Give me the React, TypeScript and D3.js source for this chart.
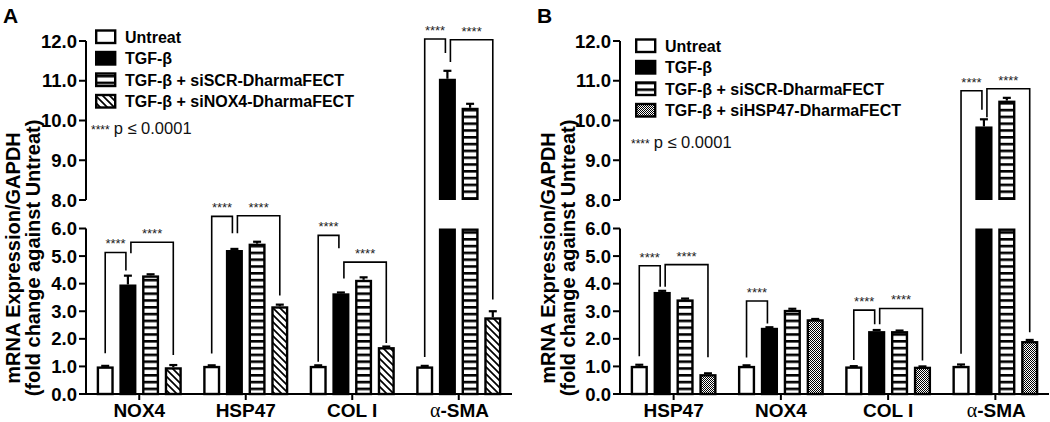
import React from 'react';
import * as d3 from 'd3';

// ---------- Panel A data ----------
const categoriesA = ["NOX4", "HSP47", "COL I", "α-SMA"];
const seriesA = ["Untreat", "TGF-β", "TGF-β + siSCR-DharmaFECT", "TGF-β + siNOX4-DharmaFECT"];
const untreatA = [1.0, 1.02, 1.02, 1.0];
const tgfA = [3.97, 5.22, 3.65, 11.05];
const siscrA = [4.3, 5.45, 4.14, 10.32];
const sinox4A = [0.97, 3.18, 1.7, 2.78];
const untreatErrA = [0.02, 0.02, 0.02, 0.02];
const tgfErrA = [0.32, 0.04, 0.03, 0.2];
const siscrErrA = [0.04, 0.07, 0.09, 0.1];
const sinox4ErrA = [0.08, 0.06, 0.02, 0.22];
const bracketsA = [
  { cat: 0, from: 0, to: 1, top: 5.13, left: 1.48, right: 4.48 },
  { cat: 0, from: 1, to: 3, top: 5.5, left: 5.1, right: 1.41 },
  { cat: 1, from: 0, to: 1, top: 6.85, left: 1.47, right: 5.83 },
  { cat: 1, from: 1, to: 3, top: 6.9, left: 5.83, right: 3.57 },
  { cat: 2, from: 0, to: 1, top: 5.75, left: 1.17, right: 5.28 },
  { cat: 2, from: 1, to: 3, top: 4.78, left: 4.19, right: 1.85 },
  { cat: 3, from: 0, to: 1, top: 12.05, left: 1.34, right: 11.7 },
  { cat: 3, from: 1, to: 3, top: 12.03, left: 11.47, right: 3.43 },
];

// ---------- Panel B data ----------
const categoriesB = ["HSP47", "NOX4", "COL I", "α-SMA"];
const seriesB = ["Untreat", "TGF-β", "TGF-β + siSCR-DharmaFECT", "TGF-β + siHSP47-DharmaFECT"];
const untreatB = [1.02, 1.02, 1.0, 1.02];
const tgfB = [3.7, 2.4, 2.28, 9.85];
const siscrB = [3.43, 3.05, 2.28, 10.5];
const sihspB = [0.72, 2.71, 0.99, 1.92];
const untreatErrB = [0.04, 0.02, 0.01, 0.05];
const tgfErrB = [0.04, 0.02, 0.04, 0.18];
const siscrErrB = [0.03, 0.04, 0.02, 0.07];
const sihspErrB = [0.03, 0.01, 0.01, 0.04];
const bracketsB = [
  { cat: 0, from: 0, to: 1, top: 4.65, left: 1.37, right: 3.89 },
  { cat: 0, from: 1, to: 3, top: 4.69, left: 3.89, right: 1.33 },
  { cat: 1, from: 0, to: 1, top: 3.37, left: 1.32, right: 2.56 },
  { cat: 2, from: 0, to: 1, top: 3.04, left: 1.23, right: 2.53 },
  { cat: 2, from: 1, to: 3, top: 3.1, left: 2.53, right: 1.21 },
  { cat: 3, from: 0, to: 1, top: 10.75, left: 1.46, right: 10.27 },
  { cat: 3, from: 1, to: 3, top: 10.8, left: 10.08, right: 2.24 },
];

// ---------- shared ----------
const yTicksLower = [0, 1, 2, 3, 4, 5, 6];
const yTicksUpper = [8, 9, 10, 11, 12];
const starsLabel = "****";
const pNote = "p ≤ 0.0001";
const yTitle1 = "mRNA Expression/GAPDH";
const yTitle2 = "(fold change against Untreat)";

const FONT = "'Liberation Sans', Arial, sans-serif";

type Bracket = { cat: number; from: number; to: number; top: number; left: number; right: number };

interface PanelProps {
  letter: string;
  letterX: number;
  ox: number;
  width: number;
  cats: string[];
  series: string[];
  values: number[][];
  errs: number[][];
  brackets: Bracket[];
  fills: string[];
  legendX: number;
  legendY: number;
  pY: number;
  titleX1: number;
  titleX2: number;
}

function CatLabel({ name, x, y }: { name: string; x: number; y: number }) {
  if (name.startsWith("α")) {
    const rest = name.slice(1);
    const restW = 48.5;
    const alphaW = 12;
    const split = x - (restW + alphaW) / 2 + alphaW;
    return (
      <g>
        <text x={split} y={y} textAnchor="end" fontSize={20} fontFamily="'Liberation Serif', 'DejaVu Serif', serif">α</text>
        <text x={split} y={y} textAnchor="start" fontSize={19} fontWeight="bold" fontFamily={FONT}>{rest}</text>
      </g>
    );
  }
  return (
    <text x={x} y={y} textAnchor="middle" fontSize={19} fontWeight="bold" fontFamily={FONT}>
      {name}
    </text>
  );
}

function Panel(p: PanelProps) {
  const y = d3.scaleLinear().domain([0, 6, 8, 12]).range([394, 228.5, 200, 41]);
  const x0 = d3.scaleBand<string>().domain(p.cats).range([p.ox, p.ox + p.width]);
  const pad = 10.7;
  const x1 = d3.scaleBand<number>().domain([0, 1, 2, 3]).range([pad, x0.bandwidth() - pad]).paddingInner(0.25);
  const bw = x1.bandwidth();
  const sw = 2.4;
  const center = (ci: number, si: number) => (x0(p.cats[ci]) as number) + (x1(si) as number) + bw / 2;

  const bars: React.ReactNode[] = [];
  const errBars: React.ReactNode[] = [];
  p.values.forEach((vals, si) => {
    vals.forEach((v, ci) => {
      const cx = center(ci, si);
      const bx = cx - bw / 2 + sw / 2;
      const w = bw - sw;
      const y0 = y(0);
      if (v > 7) {
        bars.push(
          <rect key={`l${si}-${ci}`} x={bx} y={y(6) + sw / 2} width={w} height={y0 - y(6) - sw / 2}
            fill={p.fills[si]} stroke="#000" strokeWidth={sw} />
        );
        bars.push(
          <rect key={`u${si}-${ci}`} x={bx} y={y(v) + sw / 2} width={w} height={y(8) - y(v) - sw}
            fill={p.fills[si]} stroke="#000" strokeWidth={sw} />
        );
      } else {
        bars.push(
          <rect key={`b${si}-${ci}`} x={bx} y={y(v) + sw / 2} width={w} height={y0 - y(v) - sw / 2}
            fill={p.fills[si]} stroke="#000" strokeWidth={sw} />
        );
      }
      const e = p.errs[si][ci];
      if (e > 0) {
        const yt = y(v + e);
        errBars.push(
          <g key={`e${si}-${ci}`} stroke="#000" strokeWidth={2.2}>
            <line x1={cx} x2={cx} y1={y(v)} y2={yt} />
            <line x1={cx - 4} x2={cx + 4} y1={yt} y2={yt} />
          </g>
        );
      }
    });
  });

  const brks = p.brackets.map((b, i) => {
    const xl = center(b.cat, b.from) + (b.from === 1 ? 3 : 0);
    const xr = center(b.cat, b.to) + (b.to === 1 ? -2 : 0);
    const yt = y(b.top);
    return (
      <g key={`br${i}`}>
        <path d={`M${xl},${y(b.left)}V${yt}H${xr}V${y(b.right)}`} fill="none" stroke="#000" strokeWidth={1.6} />
        <text x={(xl + xr) / 2} y={yt - 4} textAnchor="middle" fontSize={13} fontFamily={FONT} fill="#222">
          {starsLabel}
        </text>
      </g>
    );
  });

  const tickLabelX = p.ox - 9;
  const yTicks = [...yTicksLower, ...yTicksUpper];

  return (
    <g>
      <text x={p.letterX} y={23} fontSize={21} fontWeight="bold" fontFamily={FONT}>{p.letter}</text>
      <text transform={`translate(${p.titleX1},258) rotate(-90)`} textAnchor="middle" fontSize={20} fontWeight="bold" fontFamily={FONT}>
        {yTitle1}
      </text>
      <text transform={`translate(${p.titleX2},258) rotate(-90)`} textAnchor="middle" fontSize={20} fontWeight="bold" fontFamily={FONT}>
        {yTitle2}
      </text>
      <g stroke="#000" strokeWidth={2}>
        <line x1={p.ox} x2={p.ox} y1={y(0) + 1} y2={y(6)} />
        <line x1={p.ox} x2={p.ox} y1={y(8)} y2={y(12)} />
        {yTicks.map((t) => (
          <line key={`t${t}`} x1={p.ox - 7} x2={p.ox} y1={y(t)} y2={y(t)} />
        ))}
      </g>
      {yTicks.map((t) => (
        <text key={`tl${t}`} x={tickLabelX} y={y(t)} dy="0.36em" textAnchor="end" fontSize={18.5} fontWeight="bold" fontFamily={FONT}>
          {t.toFixed(1)}
        </text>
      ))}
      {bars}
      {errBars}
      {brks}
      <g stroke="#000" strokeWidth={2}>
        <line x1={p.ox - 1} x2={p.ox + p.width} y1={y(0)} y2={y(0)} />
        {p.cats.map((c) => {
          const cx = (x0(c) as number) + x0.bandwidth() / 2;
          return <line key={`ct${c}`} x1={cx} x2={cx} y1={y(0)} y2={y(0) + 6} />;
        })}
      </g>
      {p.cats.map((c) => (
        <CatLabel key={`cl${c}`} name={c} x={(x0(c) as number) + x0.bandwidth() / 2} y={417} />
      ))}
      {p.series.map((s, i) => {
        const cy = p.legendY + i * 21.5;
        return (
          <g key={`lg${i}`}>
            <rect x={p.legendX + 1.2} y={cy - 6.5} width={19} height={12.5} fill={p.fills[i]} stroke="#000" strokeWidth={2.4} />
            <text x={p.legendX + 30} y={cy} dy="0.36em" fontSize={16} fontWeight="bold" fontFamily={FONT}>{s}</text>
          </g>
        );
      })}
      <text x={p.legendX - 4} y={p.pY + 6} fontFamily={FONT} fill="#111">
        <tspan fontSize={12}>{starsLabel}</tspan>
        <tspan fontSize={16.5} dx={4}>{pNote}</tspan>
      </text>
    </g>
  );
}

export default function App() {
  return (
    <svg width={1050} height={422} style={{ position: 'absolute', left: 0, top: 0, background: '#fff' }}>
      <defs>
        <pattern id="hstripe" width={6} height={6.8} patternUnits="userSpaceOnUse">
          <rect width={6} height={6.8} fill="#fff" />
          <rect width={6} height={2.6} fill="#000" />
        </pattern>
        <pattern id="diag" width={7} height={7} patternUnits="userSpaceOnUse">
          <rect width={7} height={7} fill="#fff" />
          <path d="M-1,-1L8,8M-1,6L1,8M6,-1L8,1" stroke="#000" strokeWidth={1.7} />
        </pattern>
        <pattern id="dots" width={2} height={2} patternUnits="userSpaceOnUse">
          <rect width={2} height={2} fill="#fff" />
          <rect width={1} height={1} fill="#000" />
          <rect x={1} y={1} width={1} height={1} fill="#000" />
        </pattern>
      </defs>
      <rect width={1050} height={422} fill="#fff" />
      <Panel
        letter="A" letterX={3} ox={86} width={426}
        cats={categoriesA} series={seriesA}
        values={[untreatA, tgfA, siscrA, sinox4A]}
        errs={[untreatErrA, tgfErrA, siscrErrA, sinox4ErrA]}
        brackets={bracketsA}
        fills={["#fff", "#000", "url(#hstripe)", "url(#diag)"]}
        legendX={95} legendY={37} pY={128}
        titleX1={20} titleX2={40}
      />
      <Panel
        letter="B" letterX={537} ox={620} width={429}
        cats={categoriesB} series={seriesB}
        values={[untreatB, tgfB, siscrB, sihspB]}
        errs={[untreatErrB, tgfErrB, siscrErrB, sihspErrB]}
        brackets={bracketsB}
        fills={["#fff", "#000", "url(#hstripe)", "url(#dots)"]}
        legendX={635} legendY={46} pY={142}
        titleX1={555} titleX2={575}
      />
    </svg>
  );
}
